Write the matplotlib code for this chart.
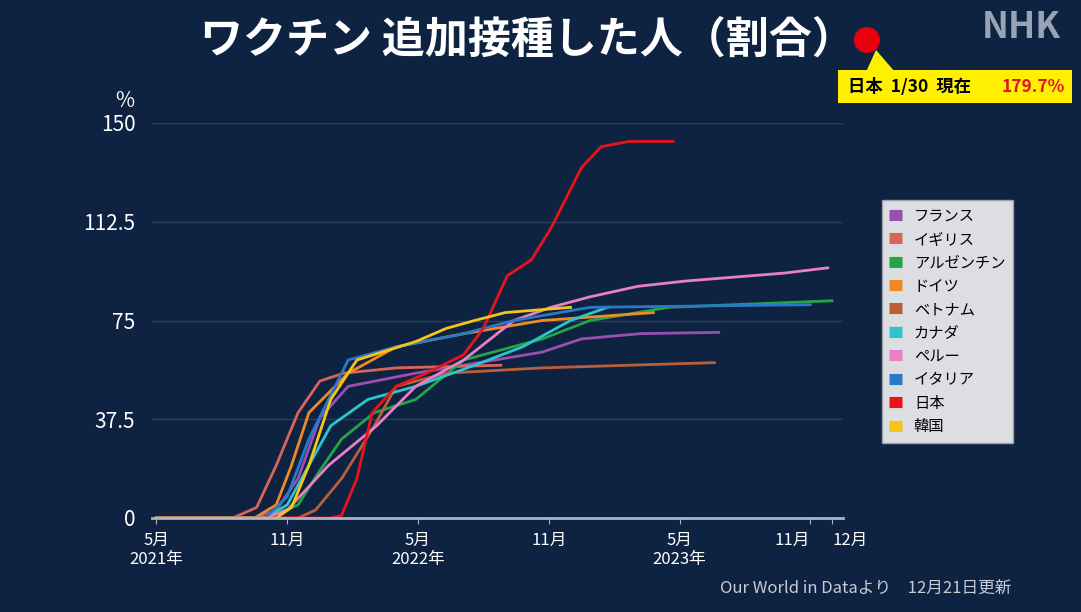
import matplotlib.pyplot as plt
from matplotlib.patches import FancyBboxPatch, Polygon, Ellipse

plt.rcParams["font.family"] = ["Noto Sans CJK JP", "DejaVu Sans"]

BG = "#0e2342"

# month index: 0 = May 2021
jp_m = [0, 8.0, 8.5, 9.2, 9.9, 11.0, 12.4, 14.1, 15.0, 16.1, 17.2, 18.1, 19.5, 20.4, 21.7, 23.7]
jp_v = [0, 0, 1, 15, 40, 50, 55, 62, 72, 92, 98, 110, 133, 141, 143, 143]

fr_m = [0, 4.5, 5.5, 6.5, 7.5, 8.8, 11.9, 17.7, 19.5, 22.2, 25.8]
fr_v = [0, 0, 3, 15, 38, 50, 55, 63, 68, 70, 70.5]

uk_m = [0, 3.5, 4.6, 5.5, 6.5, 7.5, 8.6, 11.0, 15.8]
uk_v = [0, 0, 4, 20, 40, 52, 55, 57, 58]

ar_m = [0, 5.0, 6.5, 7.5, 8.5, 10.0, 11.9, 14.1, 17.7, 19.9, 23.5, 31.0]
ar_v = [0, 0, 5, 18, 30, 40, 45, 60, 68, 75, 80, 82.5]

de_m = [0, 4.5, 5.5, 6.2, 7.0, 8.8, 11.0, 14.1, 17.7, 22.8]
de_v = [0, 0, 5, 20, 40, 55, 65, 70, 75, 78]

vn_m = [0, 6.5, 7.3, 8.5, 10.0, 11.0, 13.3, 17.7, 25.6]
vn_v = [0, 0, 3, 15, 35, 50, 55, 57, 59]

ca_m = [0, 5.0, 6.0, 7.0, 8.0, 9.7, 11.9, 14.6, 16.8, 19.0, 20.7]
ca_v = [0, 0, 5, 20, 35, 45, 50, 58, 65, 75, 80]

pe_m = [0, 5.0, 6.0, 7.9, 10.1, 11.9, 14.1, 16.4, 18.1, 19.9, 22.1, 24.3, 28.8, 30.8]
pe_v = [0, 0, 3, 20, 35, 50, 60, 75, 80, 84, 88, 90, 93, 95]

it_m = [0, 5.0, 6.0, 7.0, 8.8, 11.0, 14.1, 16.4, 19.9, 30.0]
it_v = [0, 0, 8, 30, 60, 65, 70, 75, 80, 81]

kr_m = [0, 5.5, 6.2, 7.0, 8.0, 9.2, 11.9, 13.3, 14.6, 16.0, 19.0]
kr_v = [0, 0, 4, 20, 45, 60, 67, 72, 75, 78, 80]

names = ["フランス", "イギリス", "アルゼンチン", "ドイツ", "ベトナム",
         "カナダ", "ペルー", "イタリア", "日本", "韓国"]
colors = ["#9b4fb0", "#d9655a", "#23a447", "#f08a24", "#b8603a",
          "#2ec4c9", "#e97fc4", "#2a78c8", "#e8141c", "#f5c518"]
series = [(fr_m, fr_v), (uk_m, uk_v), (ar_m, ar_v), (de_m, de_v), (vn_m, vn_v),
          (ca_m, ca_v), (pe_m, pe_v), (it_m, it_v), (jp_m, jp_v), (kr_m, kr_v)]

xticks = [0, 6, 12, 18, 24, 30, 31]
xlabels = ["5月\n2021年", "11月", "5月\n2022年", "11月", "5月\n2023年", "11月", "12月"]
yticks = [0, 37.5, 75, 112.5, 150]
ylabels = ["0", "37.5", "75", "112.5", "150"]

fig = plt.figure(figsize=(10.81, 6.12), dpi=100, facecolor=BG)
ax = fig.add_axes([152 / 1081, 1 - 518 / 612, (843 - 152) / 1081, (518 - 123) / 612])
ax.set_facecolor(BG)

for (m, v), c, n in zip(series, colors, names):
    ax.plot(m, v, color=c, lw=2, label=n)

ax.set_xlim(-0.2, 31.5)
ax.set_ylim(0, 150)
ax.set_xticks(xticks)
ax.set_xticklabels(xlabels, color="white", fontsize=12)
ax.set_yticks(yticks)
ax.set_yticklabels(ylabels, color="white", fontsize=15)
ax.tick_params(axis="x", colors="#aab4c4", length=4, pad=6)
ax.tick_params(axis="y", length=0, pad=12)
for lbl in ax.get_xticklabels():
    lbl.set_color("white")
# the last two labels sit close together as in the source
ax.get_xticklabels()[5].set_horizontalalignment("right")
ax.get_xticklabels()[6].set_horizontalalignment("left")
for y in yticks[1:]:
    ax.axhline(y, color="#2a4060", lw=1, zorder=0)
for s in ["top", "right"]:
    ax.spines[s].set_visible(False)
ax.spines["bottom"].set_color("#aab4c4")
ax.spines["bottom"].set_linewidth(2)
ax.spines["left"].set_visible(False)
ax.text(-0.04, 1.04, "%", transform=ax.transAxes, color="white", fontsize=15, ha="center")

leg = ax.legend(loc="upper left", bbox_to_anchor=(1.045, 0.825), frameon=True, fontsize=11,
                handlelength=0.8, handleheight=0.8, labelspacing=0.42, borderpad=0.5,
                fancybox=False)
leg.get_frame().set_facecolor("#dcdee2")
leg.get_frame().set_edgecolor("#9aa0a8")
leg.get_frame().set_alpha(1)
for h in leg.legend_handles:
    h.set_linewidth(8)
    h.set_solid_capstyle("butt")

fig.text(527 / 1081, 0.935, "ワクチン 追加接種した人（割合）", color="white", fontsize=31,
         fontweight="bold", ha="center", va="center")
fig.text(0.945, 0.955, "NHK", color="#9aa3b2", fontsize=26, fontweight="bold",
         fontstyle="italic", ha="center", va="center")

# callout
fig.patches.append(Polygon([[876 / 1081, 1 - 50 / 612], [895 / 1081, 1 - 72 / 612],
                            [866 / 1081, 1 - 72 / 612]], closed=True,
                           transform=fig.transFigure, facecolor="#ffef00", edgecolor="none"))
fig.patches.append(FancyBboxPatch((838 / 1081, 1 - 103 / 612), 234 / 1081, 33 / 612,
                                  boxstyle="square,pad=0", transform=fig.transFigure,
                                  facecolor="#ffef00", edgecolor="none"))
fig.patches.append(Ellipse((867 / 1081, 1 - 40 / 612), 26 / 1081, 26 / 612,
                           transform=fig.transFigure, facecolor="#e8000f", edgecolor="none"))
fig.text(848 / 1081, 1 - 87 / 612, "日本  1/30  現在", color="black", fontsize=12.5,
         fontweight="bold", ha="left", va="center")
fig.text(1065 / 1081, 1 - 87 / 612, "179.7%", color="#e0141c", fontsize=12.5,
         fontweight="bold", ha="right", va="center")

fig.text(720 / 1081, 1 - 588 / 612, "Our World in Dataより　12月21日更新", color="#c8ccd4",
         fontsize=12, ha="left", va="center")

fig.savefig("out.png", dpi=100, facecolor=BG)
